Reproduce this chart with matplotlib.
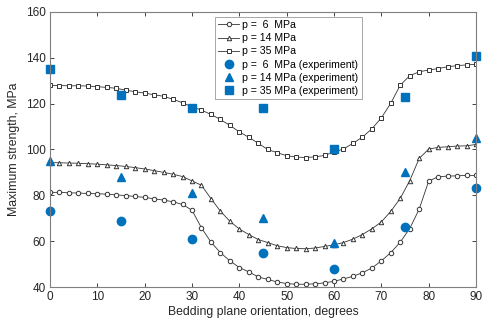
import numpy as np
import matplotlib
matplotlib.use("Agg")
import matplotlib.pyplot as plt

# model curves, every 2 degrees
angle = np.arange(0, 91, 2)
p6 = [81.3, 81.3, 81.1, 81.0, 80.8, 80.7, 80.5, 80.2, 79.9, 79.5,
      79.1, 78.5, 77.9, 77.2, 76.0, 73.5, 65.8, 59.6, 55.0, 51.4,
      48.5, 46.6, 44.4, 43.3, 42.2, 41.5, 41.2, 41.2, 41.4, 41.8,
      42.5, 43.5, 44.7, 46.2, 48.3, 51.4, 55.0, 59.6, 65.5, 74.0,
      86.2, 88.1, 88.4, 88.5, 88.7, 88.7]
p14 = [94.3, 94.2, 94.1, 94.0, 93.8, 93.6, 93.3, 93.0, 92.6, 92.1,
       91.5, 90.8, 90.0, 89.2, 88.2, 86.3, 84.4, 78.6, 73.1, 68.7,
       65.3, 62.9, 60.7, 59.4, 58.0, 57.2, 56.8, 56.7, 57.0, 57.7,
       58.4, 59.4, 60.9, 62.9, 65.4, 68.4, 73.0, 78.7, 86.4, 96.1,
       100.2, 100.9, 101.2, 101.5, 101.6, 102.2]
p35 = [128.0, 127.9, 127.8, 127.8, 127.7, 127.4, 127.1, 126.7, 125.9, 125.2,
       124.6, 123.9, 123.2, 121.9, 120.4, 118.6, 117.2, 115.3, 113.1, 110.5,
       107.7, 105.3, 102.7, 100.0, 98.6, 97.3, 96.7, 96.5, 96.8, 97.4,
       98.9, 100.2, 102.7, 105.4, 109.0, 113.8, 120.2, 128.1, 132.2, 133.9,
       134.7, 135.3, 136.1, 136.6, 136.9, 137.2]

# experiments
angle_exp = [0, 15, 30, 45, 60, 75, 90]
exp6 = [73, 69, 61, 55, 48, 66, 83]
exp14 = [95, 88, 81, 70, 59, 90, 105]
exp35 = [135, 124, 118, 118, 100, 123, 141]

plt.rcParams['font.family'] = ['Liberation Sans', 'DejaVu Sans']
fig = plt.figure(figsize=(4.84, 3.30), dpi=100)
ax = fig.add_axes([50/484, 43/330, 426/484, 275/330])

blue = '#0072BD'
mk = dict(color='#333333', lw=0.6, mfc='white', mec='#333333', ms=3.2, mew=0.7)
ax.plot(angle, p6, marker='o', label='p =  6  MPa', **mk)
ax.plot(angle, p14, marker='^', label='p = 14 MPa', **mk)
ax.plot(angle, p35, marker='s', label='p = 35 MPa', **dict(mk, ms=2.8))
ax.plot(angle_exp, exp6, 'o', color=blue, ms=6.0, mec=blue, label='p =  6  MPa (experiment)', clip_on=False)
ax.plot(angle_exp, exp14, '^', color=blue, ms=6.2, mec=blue, label='p = 14 MPa (experiment)', clip_on=False)
ax.plot(angle_exp, exp35, 's', color=blue, ms=5.4, mec=blue, label='p = 35 MPa (experiment)', clip_on=False)

ax.set_xlim(0, 90)
ax.set_ylim(40, 160)
ax.set_xticks(range(0, 91, 10))
ax.set_yticks(range(40, 161, 20))
ax.tick_params(direction='in', length=3, width=0.6, colors='#262626', labelsize=8.5,
               top=True, right=True, pad=3)
for s in ax.spines.values():
    s.set_color('#7f7f7f')
    s.set_linewidth(0.8)
ax.set_xlabel('Bedding plane orientation, degrees', fontsize=8.8, color='#262626', labelpad=2)
ax.set_ylabel('Maximum strength, MPa', fontsize=8.8, color='#262626', labelpad=4)

leg = ax.legend(loc='upper left', bbox_to_anchor=(165/426, 1 - 5/275), fontsize=7.6,
                frameon=True, fancybox=False, edgecolor='#999999', framealpha=1,
                handlelength=2.0, handletextpad=0.3, borderpad=0.3, labelspacing=0.3,
                borderaxespad=0)
leg.get_frame().set_linewidth(0.6)

fig.savefig('out.png', dpi=100)
